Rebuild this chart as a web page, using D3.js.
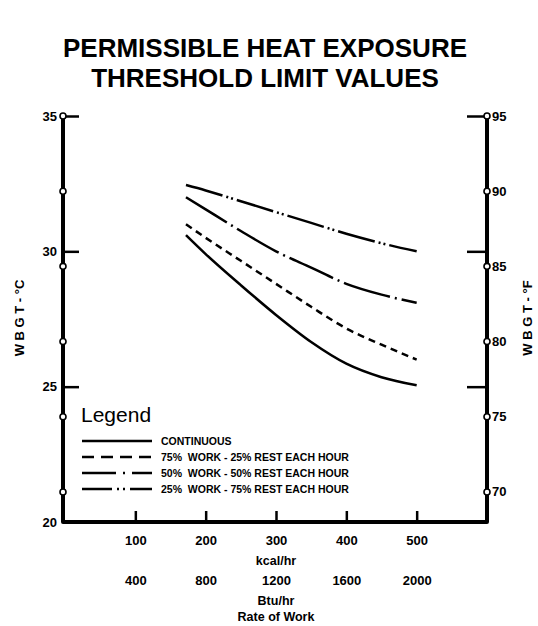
<!DOCTYPE html>
<html>
<head>
<meta charset="utf-8">
<script src="https://cdn.jsdelivr.net/npm/d3@7"></script>
<style>
  body { margin: 0; background: #fff; }
  svg { font-family: "Liberation Sans", Arial, Helvetica, sans-serif; }
  text { white-space: pre; }
</style>
</head>
<body>
<svg id="chart"></svg>
<script>
// data
let kcal = [172, 200, 250, 300, 350, 400, 450, 500];
let continuous = [30.6, 29.9, 28.75, 27.65, 26.65, 25.85, 25.35, 25.05];
let work75 = [31.0, 30.5, 29.65, 28.8, 27.95, 27.15, 26.55, 26.0];
let work50 = [32.0, 31.55, 30.75, 30.0, 29.4, 28.8, 28.4, 28.1];
let work25 = [32.45, 32.25, 31.85, 31.45, 31.05, 30.65, 30.3, 30.0];

let kcalTicks = [100, 200, 300, 400, 500];
let btuLabels = ["400", "800", "1200", "1600", "2000"];
let celsiusTicks = [20, 25, 30, 35];
let fahrenheitTicks = [70, 75, 80, 85, 90, 95];
let legendLabels = [
  "CONTINUOUS",
  "75%  WORK - 25% REST EACH HOUR",
  "50%  WORK - 50% REST EACH HOUR",
  "25%  WORK - 75% REST EACH HOUR"
];

let width = 538;
let height = 626;
let leftX = 63, rightX = 487, bottomY = 522;

let svg = d3.select('#chart')
  .attr('width', width)
  .attr('height', height);

let x = d3.scaleLinear().domain([0, 600]).range([65, 487]);
let y = d3.scaleLinear().domain([20, 35]).range([bottomY, 116]);
let fToC = f => (f - 32) * 5 / 9;

// title
svg.append("g").selectAll("text")
  .data(["PERMISSIBLE HEAT EXPOSURE", "THRESHOLD LIMIT VALUES"])
  .join("text")
    .attr("x", 265)
    .attr("y", (d, i) => 57 + i * 30)
    .attr("text-anchor", "middle")
    .attr("font-size", 26)
    .attr("font-weight", "bold")
    .text(d => d);

// left axis (C), ticks point inward
let leftAxis = svg.append("g")
  .attr("transform", `translate(${leftX},0)`)
  .call(d3.axisLeft(y).tickValues(celsiusTicks).tickSize(-16).tickPadding(6).tickSizeOuter(0));
leftAxis.select(".domain").remove();
leftAxis.selectAll(".tick line").attr("stroke-width", 2.5).attr("x1", 1);
leftAxis.selectAll(".tick text").attr("font-size", 13).attr("font-weight", "bold");

// right axis (F), ticks at C positions pointing inward
let rightTicks = svg.append("g")
  .attr("transform", `translate(${rightX},0)`)
  .call(d3.axisRight(y).tickValues([25, 30, 35]).tickSize(-20).tickFormat("").tickSizeOuter(0));
rightTicks.select(".domain").remove();
rightTicks.selectAll(".tick line").attr("stroke-width", 2.5);

// axis lines
svg.append("path")
  .attr("d", `M${leftX},${y(35)}V${bottomY}H${rightX}V${y(35)}`)
  .attr("fill", "none")
  .attr("stroke", "black")
  .attr("stroke-width", 4)
  .attr("stroke-linejoin", "round");

// bottom axis, kcal/hr
let bottomAxis = svg.append("g")
  .attr("transform", `translate(0,${bottomY})`)
  .call(d3.axisBottom(x).tickValues(kcalTicks).tickSize(-11).tickPadding(14).tickSizeOuter(0));
bottomAxis.select(".domain").remove();
bottomAxis.selectAll(".tick line").attr("stroke-width", 2.5);
bottomAxis.selectAll(".tick text").attr("font-size", 13).attr("font-weight", "bold");

// second row, Btu/hr
let btuAxis = svg.append("g")
  .attr("transform", `translate(0,${bottomY + 40})`)
  .call(d3.axisBottom(x).tickValues(kcalTicks).tickSize(0).tickPadding(14)
    .tickFormat((d, i) => btuLabels[i]));
btuAxis.select(".domain").remove();
btuAxis.selectAll(".tick text").attr("font-size", 13).attr("font-weight", "bold");

// circle markers at F values on both axes
[leftX, rightX].forEach(ax => {
  svg.append("g").selectAll("circle")
    .data(fahrenheitTicks)
    .join("circle")
      .attr("cx", ax)
      .attr("cy", d => y(fToC(d)))
      .attr("r", 3)
      .attr("fill", "white")
      .attr("stroke", "black")
      .attr("stroke-width", 1.6);
});

svg.append("g").selectAll("text")
  .data(fahrenheitTicks)
  .join("text")
    .attr("x", rightX + 5)
    .attr("y", d => y(fToC(d)))
    .attr("dy", "0.35em")
    .attr("font-size", 13)
    .attr("font-weight", "bold")
    .text(d => d);

// axis titles
svg.append("text")
  .attr("transform", "translate(24,318) rotate(-90)")
  .attr("text-anchor", "middle")
  .attr("font-size", 13)
  .attr("font-weight", "bold")
  .text("W B G T - °C");

svg.append("text")
  .attr("transform", "translate(532,318) rotate(-90)")
  .attr("text-anchor", "middle")
  .attr("font-size", 13)
  .attr("font-weight", "bold")
  .text("W B G T - °F");

svg.append("g").selectAll("text")
  .data([["kcal/hr", 565], ["Btu/hr", 605], ["Rate of Work", 621]])
  .join("text")
    .attr("x", x(300))
    .attr("y", d => d[1])
    .attr("text-anchor", "middle")
    .attr("font-size", 12.5)
    .attr("font-weight", "bold")
    .text(d => d[0]);

// curves
let series = [
  { values: continuous, dash: null, legendDash: null },
  { values: work75, dash: "7,5", legendDash: "12,7" },
  { values: work50, dash: "48,5,2,5", legendDash: "34,7,2,7" },
  { values: work25, dash: "38,4,2,3,2,4", legendDash: "30,5,2,4,2,5" }
];

let line = d3.line()
  .x((d, i) => x(kcal[i]))
  .y(d => y(d))
  .curve(d3.curveMonotoneX);

series.forEach(s => {
  svg.append("path")
    .datum(s.values)
    .attr("fill", "none")
    .attr("stroke", "black")
    .attr("stroke-width", 2.5)
    .attr("stroke-dasharray", s.dash)
    .attr("d", line);
});

// legend
svg.append("text")
  .attr("x", 81)
  .attr("y", 422)
  .attr("font-size", 21)
  .text("Legend");

let legend = svg.append("g").selectAll("g")
  .data(series)
  .join("g")
    .attr("transform", (d, i) => `translate(82,${441 + i * 16})`);

legend.append("line")
  .attr("x1", 0)
  .attr("x2", 70)
  .attr("stroke", "black")
  .attr("stroke-width", 2.5)
  .attr("stroke-dasharray", d => d.legendDash);

legend.append("text")
  .attr("x", 79)
  .attr("dy", "0.35em")
  .attr("font-size", 10.5)
  .attr("font-weight", "bold")
  .text((d, i) => legendLabels[i]);
</script>
</body>
</html>
